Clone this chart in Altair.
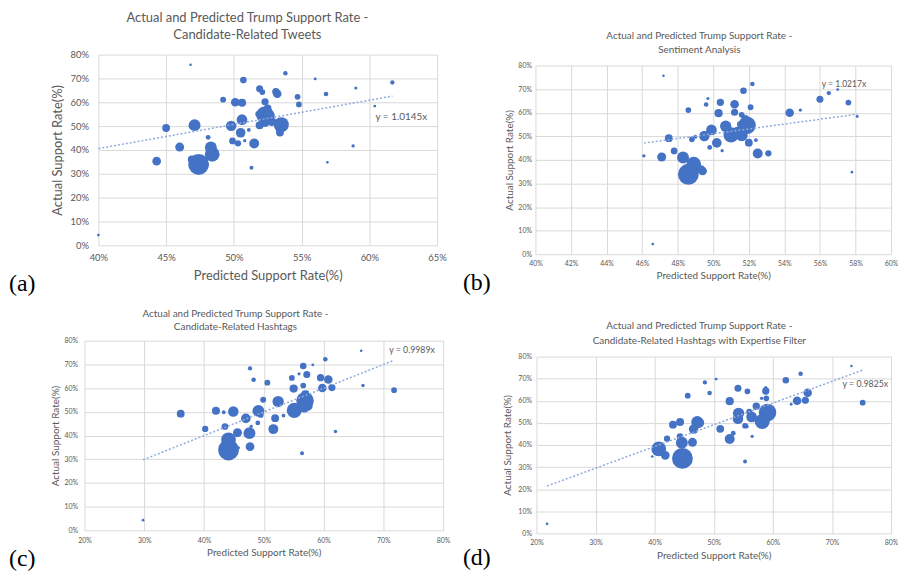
import altair as alt
import pandas as pd

# ---------------- data ----------------
states = ["AL","AK","AZ","AR","CA","CO","CT","DE","DC","FL","GA","HI","ID","IL","IN","IA","KS","KY","LA","ME",
          "MD","MA","MI","MN","MS","MO","MT","NE","NV","NH","NJ","NM","NY","NC","ND","OH","OK","OR","PA","RI",
          "SC","SD","TN","TX","UT","VT","VA","WA","WV","WI","WY"]

actual = [64.4,58.4,51.9,64.3,33.9,47.3,42.8,43.9,4.3,50.6,52.7,32.5,68.3,41.0,60.0,55.1,61.1,65.7,60.2,48.4,
          36.0,35.3,50.1,49.2,59.1,59.8,61.1,63.5,48.7,49.8,42.7,45.3,38.2,51.9,69.8,54.3,69.3,43.8,50.4,41.7,
          57.5,66.0,63.6,54.7,62.3,34.8,47.2,41.2,72.2,50.4,75.7]

bubble = [4.86,0.74,6.93,2.99,39.25,5.54,3.58,0.95,0.68,20.61,10.31,1.43,1.68,12.80,6.63,3.13,2.91,4.44,4.68,1.33,
          6.02,6.81,9.93,5.52,2.99,6.09,1.04,1.91,2.94,1.33,8.94,2.08,19.75,10.15,0.76,11.61,3.92,4.09,12.78,1.06,
          4.96,0.87,6.65,27.86,3.05,0.62,8.41,7.29,1.83,5.78,0.59]

pred_a = [53.1,60.4,52.8,52.1,47.4,53.4,50.3,50.8,40.0,53.5,50.6,51.3,61.7,48.3,50.1,51.8,49.2,51.9,52.3,51.1,
          46.9,44.3,49.8,45.0,54.8,50.6,49.3,56.8,53.3,46.8,51.5,48.1,48.4,52.3,56.0,52.6,50.7,49.9,47.1,58.8,
          52.5,59.0,53.2,52.3,54.7,56.9,50.5,46.0,53.8,51.9,46.8]

pred_b = [50.4,58.1,51.3,57.6,48.6,52.0,53.1,50.5,46.6,51.0,49.9,48.7,56.5,48.3,54.3,51.5,48.6,56.0,51.2,52.4,
          49.3,49.4,49.5,47.5,51.6,50.3,54.9,49.6,48.8,49.0,52.5,49.8,48.9,51.4,57.0,50.7,51.7,47.8,51.6,46.1,
          51.8,49.7,51.2,51.9,52.1,57.8,50.2,47.1,52.2,51.3,47.2]

pred_c = [59.5,57.3,56.2,54.7,44.1,51.9,40.2,47.9,29.8,55.1,57.3,56.4,47.7,47.6,59.8,49.9,56.6,57.2,61.4,53.3,
          44.5,47.7,44.9,36.1,71.8,55.0,66.6,48.3,49.5,43.3,51.6,49.0,44.1,56.8,58.2,52.4,56.6,43.5,49.1,62.0,
          56.9,55.9,60.8,56.9,50.6,45.8,47.0,45.6,60.3,42.0,66.3]

pred_d = [58.8,63.1,54.0,55.7,44.7,51.1,42.1,56.5,21.8,58.2,56.4,55.3,48.5,44.6,64.1,56.0,58.9,54.1,65.5,55.6,
          44.5,41.8,47.5,43.1,75.2,52.7,58.1,49.3,55.3,44.0,52.7,53.3,40.7,54.1,50.4,54.2,62.2,44.3,47.2,44.9,
          57.2,58.8,65.9,59.1,45.6,39.6,46.6,46.4,64.7,44.3,73.3]

slopes = [1.0145, 1.0217, 0.9989, 0.9825]
eq_labels = ["y = 1.0145x", "y = 1.0217x", "y = 0.9989x", "y = 0.9825x"]
titles = [
    ["Actual and Predicted Trump Support Rate -", "Candidate-Related Tweets"],
    ["Actual and Predicted Trump Support Rate -", "Sentiment Analysis"],
    ["Actual and Predicted Trump Support Rate -", "Candidate-Related Hashtags"],
    ["Actual and Predicted Trump Support Rate -", "Candidate-Related Hashtags with Expertise Filter"],
]
tags = ["(a)", "(b)", "(c)", "(d)"]
x_domains = [[40, 65, 5], [40, 60, 2], [20, 80, 10], [20, 80, 10]]
y_ticks = [0, 10, 20, 30, 40, 50, 60, 70, 80]

# ---------------- style ----------------
BLUE = "#4472C4"
TREND = "#8FAADC"
GRAY = "#595959"
GRID = "#d9d9d9"
FONT = "Lato"
SERIF = "Liberation Serif"

one = pd.DataFrame({"k": [0]})


def spacer():
    return alt.Chart(one).mark_rect(opacity=0).encode(
        x=alt.value(0), x2=alt.value(1), y=alt.value(0), y2=alt.value(1)).properties(width=1, height=1)


def axis(title, values, s, lp, tp):
    return alt.Axis(values=values, labelExpr="datum.value + '%'", title=title, grid=True, gridColor=GRID,
                    domain=False, ticks=False, labelFlush=False, labelOverlap=False,
                    labelFont=FONT, labelFontSize=s["lab_fs"], labelColor=GRAY,
                    titleFont=FONT, titleFontSize=s["ax_fs"], titleFontWeight="normal",
                    titleColor=GRAY, labelPadding=lp, titlePadding=tp)


def panel(i, pred, s):
    df = pd.DataFrame({"state": states, "pred": pred, "actual": actual, "bubble": bubble})
    df = df.sort_values("bubble", ascending=False)
    lo, hi, step = x_domains[i]
    xmin, xmax = min(pred), max(pred)
    trend = pd.DataFrame({"pred": [xmin, xmax], "actual": [slopes[i] * xmin, slopes[i] * xmax]})

    xenc = alt.X("pred:Q", scale=alt.Scale(domain=[lo, hi], nice=False, zero=False),
                 axis=axis("Predicted Support Rate(%)", list(range(lo, hi + 1, step)), s, s["xlp"], s["xtp"]))
    yenc = alt.Y("actual:Q", scale=alt.Scale(domain=[0, 80], nice=False),
                 axis=axis("Actual Support Rate(%)", y_ticks, s, s["ylp"], s["ytp"]))

    pts = alt.Chart(df).mark_circle(color=BLUE, opacity=1).encode(
        x=xenc, y=yenc,
        size=alt.Size("bubble:Q", scale=alt.Scale(zero=True, range=[0, s["smax"]]), legend=None),
    )
    line = alt.Chart(trend).mark_line(color=TREND, strokeDash=[2, 2], strokeWidth=1.5).encode(
        x=xenc, y=yenc)
    eq = alt.Chart(pd.DataFrame({"pred": [s["eqx"]], "actual": [s["eqy"]], "t": [eq_labels[i]]})).mark_text(
        align="left", baseline="middle", font=FONT, fontSize=s["eq_fs"], color=GRAY).encode(
        x=xenc, y=yenc, text="t:N")
    tag = alt.Chart(one).mark_text(align="left", baseline="middle", font=SERIF, fontSize=24,
                                   color="black").encode(
        x=alt.value(s["tagx"]), y=alt.value(s["tagy"]), text=alt.value(tags[i]))
    t1 = alt.Chart(one).mark_text(align="center", baseline="middle", font=FONT, fontSize=s["t_fs"],
                                  color=GRAY).encode(
        x=alt.value(s["tx"]), y=alt.value(s["ty"][0]), text=alt.value(titles[i][0]))
    t2 = alt.Chart(one).mark_text(align="center", baseline="middle", font=FONT, fontSize=s["t_fs"],
                                  color=GRAY).encode(
        x=alt.value(s["tx"]), y=alt.value(s["ty"][1]), text=alt.value(titles[i][1]))
    cell = alt.Chart(one).mark_rect(opacity=0).encode(
        x=alt.value(s["cell"][0]), x2=alt.value(s["cell"][1]),
        y=alt.value(s["cell"][2]), y2=alt.value(s["cell"][3]))

    layered = alt.layer(cell, pts, line, eq, t1, t2, tag).properties(width=s["w"], height=s["h"])
    # a 1px spacer above the panel so that the panel is placed by its outer bounds
    return alt.vconcat(spacer(), layered, spacing=0)


cfg = [
    dict(w=341, h=192, smax=440, lab_fs=9.5, ax_fs=13, xlp=7, xtp=8, ylp=10, ytp=5, eq_fs=10,
         eqx=60.45, eqy=53.7, tagx=-90, tagy=231, cell=[-90, 367, -44, 247],
         t_fs=13, tx=150, ty=[-36.5, -19.5]),
    dict(w=358, h=190, smax=300, lab_fs=7, ax_fs=10, xlp=5, xtp=4, ylp=4, ytp=3, eq_fs=8.6,
         eqx=56.1, eqy=72.0, tagx=-73, tagy=219, cell=[-73, 365, -55, 235],
         t_fs=10, tx=165, ty=[-30, -16]),
    dict(w=361, h=191, smax=350, lab_fs=7, ax_fs=10, xlp=6, xtp=4, ylp=7, ytp=3, eq_fs=8.8,
         eqx=71.0, eqy=76.2, tagx=-76, tagy=220, cell=[-76, 381, -40, 232],
         t_fs=10, tx=152, ty=[-27, -14]),
    dict(w=357, h=178, smax=380, lab_fs=7, ax_fs=10, xlp=5, xtp=5, ylp=5, ytp=5, eq_fs=8.8,
         eqx=71.8, eqy=67.4, tagx=-74, tagy=203, cell=[-74, 364, -56, 216],
         t_fs=10, tx=164, ty=[-31, -16]),
]

preds = [pred_a, pred_b, pred_c, pred_d]
cols = [panel(i, preds[i], cfg[i]) for i in range(4)]

row1 = alt.hconcat(spacer(), cols[0], cols[1], spacing=0)
row2 = alt.hconcat(spacer(), cols[2], cols[3], spacing=0)
chart = alt.vconcat(row1, row2, spacing=0).properties(
    padding=0, background="white").configure_view(stroke=None)

chart.save("out.html", embed_options={"renderer": "svg", "actions": False})
